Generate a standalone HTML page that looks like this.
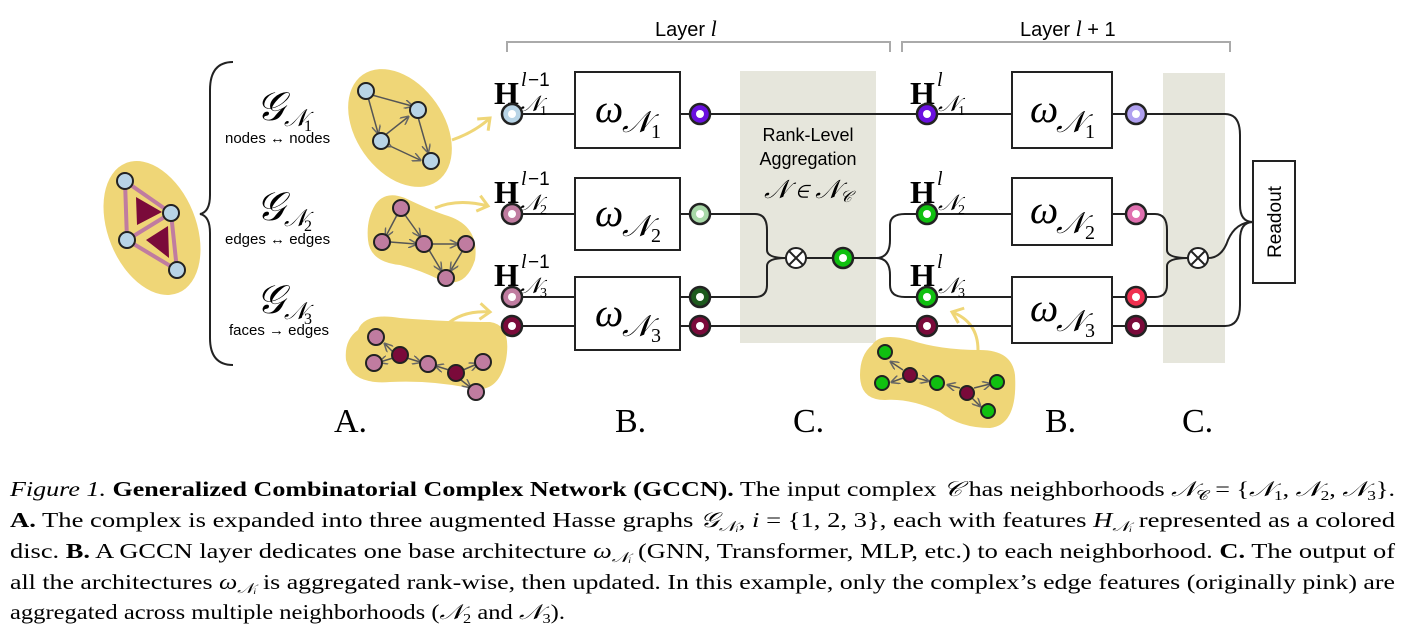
<!DOCTYPE html>
<html><head><meta charset="utf-8"><style>
body{margin:0;background:#fff;width:1403px;height:634px;overflow:hidden}
svg{display:block}
.m{font-family:"Liberation Serif",serif;font-style:italic}
.s{font-family:"Liberation Sans","DejaVu Sans",sans-serif}
.cap{font-family:"Liberation Serif",serif;font-size:21px}
</style></head><body>
<svg width="1403" height="634" viewBox="0 0 1403 634" xmlns="http://www.w3.org/2000/svg">
<defs>
<marker id="ar" markerWidth="6" markerHeight="6" refX="5" refY="3" orient="auto"><path d="M0,0 L6,3 L0,6" fill="none" stroke="#666" stroke-width="1"/></marker>
<marker id="ya" markerUnits="userSpaceOnUse" markerWidth="16" markerHeight="20" refX="12" refY="10" orient="auto"><path d="M2,2 L12,10 L2,18" fill="none" stroke="#efd677" stroke-width="3"/></marker>
</defs>
<g stroke="#aaa" stroke-width="2" fill="none">
<path d="M507,52 V42 H890 V52"/><path d="M902,52 V42 H1230 V52"/>
</g>
<text x="655" y="36" class="s" font-size="20">Layer <tspan class="m" font-size="22">l</tspan></text>
<text x="1020" y="36" class="s" font-size="20">Layer <tspan class="m" font-size="22">l</tspan> + 1</text>
<rect x="740" y="71" width="136" height="272" fill="#e6e6dc"/>
<rect x="1163" y="73" width="62" height="290" fill="#e6e6dc"/>
<!-- left complex -->
<ellipse cx="152" cy="228" rx="44" ry="70" transform="rotate(-22 152 228)" fill="#efd677"/>
<g stroke="#c07ca0" stroke-width="4" fill="none">
<path d="M125,181 L171,213 L127,240 Z"/><path d="M171,213 L177,270 L127,240"/>
</g>
<path d="M136,197 L162,212 L137,225Z" fill="#7a0a3a"/>
<path d="M146,240 L168,226 L169,258Z" fill="#7a0a3a"/>
<g stroke="#222" stroke-width="2" fill="#b8d4e6">
<circle cx="125" cy="181" r="8"/><circle cx="171" cy="213" r="8"/><circle cx="127" cy="240" r="8"/><circle cx="177" cy="270" r="8"/>
</g>
<path d="M233,62 Q210,62 210,90 V195 Q210,212 200,214 Q210,216 210,233 V338 Q210,365 233,365" fill="none" stroke="#222" stroke-width="2"/>
<!-- G labels -->
<g class="m" font-size="40"><text x="256" y="120">𝒢</text><text x="256" y="220">𝒢</text><text x="256" y="313">𝒢</text></g>
<g class="m" font-size="24"><text x="284" y="126">𝒩</text><text x="284" y="226">𝒩</text><text x="284" y="319">𝒩</text></g>
<g font-family="Liberation Serif" font-size="16"><text x="304" y="131">1</text><text x="304" y="231">2</text><text x="304" y="324">3</text></g>
<g class="s" font-size="15">
<text x="225" y="143">nodes ↔ nodes</text><text x="225" y="244">edges ↔ edges</text><text x="229" y="335">faces → edges</text>
</g>
<!-- blob 1 -->
<ellipse cx="400" cy="128" rx="44" ry="65" transform="rotate(-35 400 128)" fill="#efd677"/>
<path d="M452,140 Q475,132 490,118" fill="none" stroke="#efd677" stroke-width="3" marker-end="url(#ya)"/>
<g stroke="#555" stroke-width="1.5" marker-end="url(#ar)" marker-start="url(#ar)">
<line x1="372" y1="95" x2="412" y2="106"/><line x1="368" y1="97" x2="378" y2="133"/><line x1="384" y1="136" x2="408" y2="117"/><line x1="418" y1="117" x2="428" y2="152"/><line x1="390" y1="146" x2="420" y2="160"/>
</g>
<g stroke="#222" stroke-width="2" fill="#b8d4e6">
<circle cx="366" cy="91" r="8"/><circle cx="418" cy="110" r="8"/><circle cx="381" cy="141" r="8"/><circle cx="431" cy="161" r="8"/>
</g>
<!-- blob 2 -->
<path d="M375,205 Q385,190 405,198 Q430,210 445,215 Q480,225 475,260 Q465,290 440,280 Q420,270 400,265 Q370,262 368,240 Q366,220 375,205Z" fill="#efd677"/>
<path d="M435,208 Q458,198 488,206" fill="none" stroke="#efd677" stroke-width="3" marker-end="url(#ya)"/>
<g stroke="#555" stroke-width="1.5" marker-end="url(#ar)" marker-start="url(#ar)">
<line x1="397" y1="215" x2="386" y2="236"/><line x1="405" y1="215" x2="420" y2="236"/><line x1="390" y1="242" x2="416" y2="244"/><line x1="432" y1="244" x2="457" y2="244"/><line x1="429" y1="250" x2="441" y2="270"/><line x1="463" y1="250" x2="451" y2="270"/>
</g>
<g stroke="#222" stroke-width="2" fill="#c07ca0">
<circle cx="401" cy="208" r="8"/><circle cx="382" cy="242" r="8"/><circle cx="424" cy="244" r="8"/><circle cx="466" cy="244" r="8"/><circle cx="446" cy="278" r="8"/>
</g>
<!-- blob 3 -->
<path d="M358,330 Q365,312 400,318 Q450,322 490,322 Q512,325 506,360 Q498,395 470,388 Q430,380 390,382 Q352,385 346,360 Q344,340 358,330Z" fill="#efd677"/>
<path d="M445,326 Q462,310 490,312" fill="none" stroke="#efd677" stroke-width="3" marker-end="url(#ya)"/>
<g stroke="#555" stroke-width="1.5" marker-end="url(#ar)">
<line x1="393" y1="352" x2="385" y2="344"/><line x1="393" y1="358" x2="380" y2="362"/><line x1="407" y1="358" x2="420" y2="362"/><line x1="449" y1="370" x2="436" y2="366"/><line x1="463" y1="370" x2="477" y2="364"/><line x1="461" y1="380" x2="470" y2="387"/>
</g>
<g stroke="#222" stroke-width="2">
<circle cx="376" cy="337" r="8" fill="#c07ca0"/><circle cx="374" cy="363" r="8" fill="#c07ca0"/><circle cx="400" cy="355" r="8" fill="#7a0a3a"/><circle cx="428" cy="364" r="8" fill="#c07ca0"/><circle cx="456" cy="373" r="8" fill="#7a0a3a"/><circle cx="483" cy="362" r="8" fill="#c07ca0"/><circle cx="476" cy="392" r="8" fill="#c07ca0"/>
</g>
<!-- blob green -->
<path d="M872,345 Q880,332 910,340 Q940,350 980,350 Q1012,350 1015,375 Q1018,425 990,428 Q960,428 940,412 Q910,398 885,400 Q860,400 860,375 Q860,355 872,345Z" fill="#efd677"/>
<path d="M978,350 Q978,322 952,312" fill="none" stroke="#efd677" stroke-width="3" marker-end="url(#ya)"/>
<g stroke="#555" stroke-width="1.5" marker-end="url(#ar)">
<line x1="903" y1="370" x2="891" y2="362"/><line x1="903" y1="378" x2="892" y2="382"/><line x1="917" y1="378" x2="928" y2="381"/><line x1="960" y1="388" x2="948" y2="385"/><line x1="974" y1="388" x2="990" y2="384"/><line x1="972" y1="398" x2="980" y2="406"/>
</g>
<g stroke="#222" stroke-width="2">
<circle cx="885" cy="352" r="7" fill="#10c010"/><circle cx="882" cy="383" r="7" fill="#10c010"/><circle cx="910" cy="375" r="7" fill="#7a0a3a"/><circle cx="937" cy="383" r="7" fill="#10c010"/><circle cx="967" cy="393" r="7" fill="#7a0a3a"/><circle cx="997" cy="382" r="7" fill="#10c010"/><circle cx="988" cy="411" r="7" fill="#10c010"/>
</g>
<!-- connectors -->
<g stroke="#222" stroke-width="2" fill="none">
<line x1="512" y1="114" x2="1136" y2="114"/>
<line x1="512" y1="214" x2="700" y2="214"/>
<line x1="512" y1="297" x2="700" y2="297"/>
<line x1="512" y1="326" x2="1136" y2="326"/>
<line x1="927" y1="214" x2="1136" y2="214"/>
<line x1="927" y1="297" x2="1136" y2="297"/>
<line x1="806" y1="258" x2="876" y2="258"/>
<path d="M700,214 H755 Q767,214 767,230 V250 Q767,258 786,258"/>
<path d="M700,297 H755 Q767,297 767,285 V266 Q767,258 786,258"/>
<path d="M876,258 Q890,258 890,240 V225 Q890,214 905,214 H927"/>
<path d="M876,258 Q890,258 890,275 V285 Q890,297 905,297 H927"/>
<path d="M1136,214 H1155 Q1167,214 1167,230 V250 Q1167,258 1188,258"/>
<path d="M1136,297 H1155 Q1167,297 1167,285 V266 Q1167,258 1188,258"/>
<path d="M1208,258 Q1222,258 1228,240 Q1236,222 1253,222"/>
<path d="M1136,114 H1225 Q1240,114 1240,135 V205 Q1240,222 1253,222"/>
<path d="M1136,326 H1225 Q1240,326 1240,305 V240 Q1240,222 1253,222"/>
</g>
<g fill="#fff" stroke="#222" stroke-width="2">
<rect x="575" y="72" width="105" height="76"/><rect x="575" y="178" width="105" height="72"/><rect x="575" y="277" width="105" height="73"/>
<rect x="1012" y="72" width="100" height="76"/><rect x="1012" y="178" width="100" height="67"/><rect x="1012" y="277" width="100" height="66"/>
<rect x="1253" y="161" width="42" height="122"/>
</g>
<g class="m" font-size="40">
<text x="595" y="122">ω</text><text x="595" y="226">ω</text><text x="595" y="326">ω</text>
<text x="1030" y="122">ω</text><text x="1030" y="223">ω</text><text x="1030" y="321">ω</text>
</g>
<g class="m" font-size="30">
<text x="622" y="132">𝒩</text><text x="622" y="236">𝒩</text><text x="622" y="336">𝒩</text>
<text x="1056" y="132">𝒩</text><text x="1056" y="233">𝒩</text><text x="1056" y="331">𝒩</text>
</g>
<g font-family="Liberation Serif" font-size="20">
<text x="651" y="138">1</text><text x="651" y="242">2</text><text x="651" y="342">3</text>
<text x="1085" y="138">1</text><text x="1085" y="239">2</text><text x="1085" y="337">3</text>
</g>
<text transform="translate(1281,222) rotate(-90)" text-anchor="middle" class="s" font-size="19">Readout</text>
<!-- H labels -->
<g font-family="Liberation Serif" font-weight="bold" font-size="32">
<text x="494" y="104">H</text><text x="494" y="203">H</text><text x="494" y="286">H</text>
<text x="910" y="104">H</text><text x="910" y="203">H</text><text x="910" y="286">H</text>
</g>
<g class="m" font-size="20">
<text x="521" y="86">l</text><text x="521" y="185">l</text><text x="521" y="268">l</text>
<text x="937" y="86">l</text><text x="937" y="185">l</text><text x="937" y="268">l</text>
</g>
<g font-family="Liberation Sans" font-size="19"><text x="528" y="86">−1</text><text x="528" y="185">−1</text><text x="528" y="268">−1</text></g>
<g class="m" font-size="22">
<text x="520" y="111">𝒩</text><text x="520" y="210">𝒩</text><text x="520" y="293">𝒩</text>
<text x="938" y="111">𝒩</text><text x="938" y="210">𝒩</text><text x="938" y="293">𝒩</text>
</g>
<g font-family="Liberation Serif" font-size="14">
<text x="540" y="115">1</text><text x="540" y="214">2</text><text x="540" y="297">3</text>
<text x="958" y="115">1</text><text x="958" y="214">2</text><text x="958" y="297">3</text>
</g>
<g class="s" font-size="18" text-anchor="middle"><text x="808" y="141">Rank-Level</text><text x="808" y="165">Aggregation</text></g>
<text x="808" y="198" text-anchor="middle" class="m" font-size="26">𝒩 ∈ 𝒩<tspan font-size="16" dy="4">𝒞</tspan></text>
<g stroke="#222" stroke-width="2" fill="#fff">
<circle cx="796" cy="258" r="10"/><path d="M789,251 L803,265 M803,251 L789,265"/>
<circle cx="1198" cy="258" r="10"/><path d="M1191,251 L1205,265 M1205,251 L1191,265"/>
</g>
<g stroke="#222" stroke-width="2.5">
<circle cx="512" cy="114" r="10" fill="#b8d4e6"/><circle cx="512" cy="214" r="10" fill="#c07ca0"/><circle cx="512" cy="297" r="10" fill="#c07ca0"/><circle cx="512" cy="326" r="10" fill="#7a0a3a"/>
<circle cx="700" cy="114" r="10" fill="#6a10e0"/><circle cx="700" cy="214" r="10" fill="#a8d8a8"/><circle cx="700" cy="297" r="10" fill="#1e5a1e"/><circle cx="700" cy="326" r="10" fill="#7a0a3a"/>
<circle cx="843" cy="258" r="10" fill="#10c010"/>
<circle cx="927" cy="114" r="10" fill="#6a10e0"/><circle cx="927" cy="214" r="10" fill="#10c010"/><circle cx="927" cy="297" r="10" fill="#10c010"/><circle cx="927" cy="326" r="10" fill="#7a0a3a"/>
<circle cx="1136" cy="114" r="10" fill="#b0a0f0"/><circle cx="1136" cy="214" r="10" fill="#e070b0"/><circle cx="1136" cy="297" r="10" fill="#f03050"/><circle cx="1136" cy="326" r="10" fill="#7a0a3a"/>
</g>
<g fill="#fff">
<circle cx="512" cy="114" r="4"/><circle cx="512" cy="214" r="4"/><circle cx="512" cy="297" r="4"/><circle cx="512" cy="326" r="4"/>
<circle cx="700" cy="114" r="4"/><circle cx="700" cy="214" r="4"/><circle cx="700" cy="297" r="4"/><circle cx="700" cy="326" r="4"/>
<circle cx="843" cy="258" r="4"/>
<circle cx="927" cy="114" r="4"/><circle cx="927" cy="214" r="4"/><circle cx="927" cy="297" r="4"/><circle cx="927" cy="326" r="4"/>
<circle cx="1136" cy="114" r="4"/><circle cx="1136" cy="214" r="4"/><circle cx="1136" cy="297" r="4"/><circle cx="1136" cy="326" r="4"/>
</g>
<g font-family="Liberation Serif" font-size="34">
<text x="334" y="432">A.</text><text x="615" y="432">B.</text><text x="793" y="432">C.</text><text x="1045" y="432">B.</text><text x="1182" y="432">C.</text>
</g>
<g class="cap">
<text x="10" y="496" textLength="1385" lengthAdjust="spacingAndGlyphs"><tspan font-style="italic">Figure 1.</tspan> <tspan font-weight="bold">Generalized Combinatorial Complex Network (GCCN).</tspan> The input complex <tspan font-style="italic">𝒞</tspan> has neighborhoods <tspan font-style="italic">𝒩</tspan><tspan font-size="14" dy="4">𝒞</tspan><tspan dy="-4"> = {</tspan><tspan font-style="italic">𝒩</tspan><tspan font-size="14" dy="4">1</tspan><tspan dy="-4">, </tspan><tspan font-style="italic">𝒩</tspan><tspan font-size="14" dy="4">2</tspan><tspan dy="-4">, </tspan><tspan font-style="italic">𝒩</tspan><tspan font-size="14" dy="4">3</tspan><tspan dy="-4">}.</tspan></text>
<text x="10" y="527" textLength="1385" lengthAdjust="spacingAndGlyphs"><tspan font-weight="bold">A.</tspan> The complex is expanded into three augmented Hasse graphs <tspan font-style="italic">𝒢</tspan><tspan font-size="14" dy="4" font-style="italic">𝒩ᵢ</tspan><tspan dy="-4">, </tspan><tspan font-style="italic">i</tspan> = {1, 2, 3}, each with features <tspan font-style="italic">H</tspan><tspan font-size="14" dy="4" font-style="italic">𝒩ᵢ</tspan><tspan dy="-4"> represented as a colored</tspan></text>
<text x="10" y="558" textLength="1385" lengthAdjust="spacingAndGlyphs">disc. <tspan font-weight="bold">B.</tspan> A GCCN layer dedicates one base architecture <tspan font-style="italic">ω</tspan><tspan font-size="14" dy="4" font-style="italic">𝒩ᵢ</tspan><tspan dy="-4"> (GNN, Transformer, MLP, etc.) to each neighborhood. </tspan><tspan font-weight="bold">C.</tspan> The output of</text>
<text x="10" y="589" textLength="1385" lengthAdjust="spacingAndGlyphs">all the architectures <tspan font-style="italic">ω</tspan><tspan font-size="14" dy="4" font-style="italic">𝒩ᵢ</tspan><tspan dy="-4"> is aggregated rank-wise, then updated. In this example, only the complex’s edge features (originally pink) are</tspan></text>
<text x="10" y="619" textLength="555" lengthAdjust="spacingAndGlyphs">aggregated across multiple neighborhoods (<tspan font-style="italic">𝒩</tspan><tspan font-size="14" dy="4">2</tspan><tspan dy="-4"> and </tspan><tspan font-style="italic">𝒩</tspan><tspan font-size="14" dy="4">3</tspan><tspan dy="-4">).</tspan></text>
</g>
</svg>
</body></html>
